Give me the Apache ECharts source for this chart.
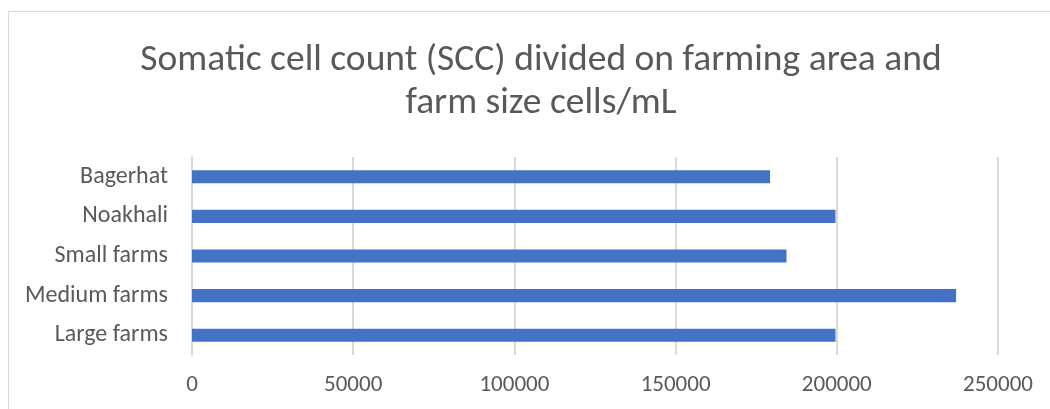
<!DOCTYPE html>
<html>
<head>
<meta charset="utf-8">
<style>
  html, body { margin: 0; padding: 0; background: #fff; }
  #chart { width: 1050px; height: 409px; }
</style>
<script src="https://cdn.jsdelivr.net/npm/echarts@6/dist/echarts.min.js"></script>
</head>
<body>
<div id="chart"></div>
<script>
// Categories listed bottom-to-top (category axis on y starts at the bottom)
const categories = ['Large farms', 'Medium farms', 'Small farms', 'Noakhali', 'Bagerhat'];
const sccValues = [199600, 237000, 184400, 199600, 179300];
const xTicks = [0, 50000, 100000, 150000, 200000, 250000];

const textColor = '#595959';
const lineColor = '#d9d9d9';
const fontFamily = 'Carlito, Calibri, "Liberation Sans", "Noto Sans", sans-serif';

const chart = echarts.init(document.getElementById('chart'), null, { renderer: 'canvas' });
chart.setOption({
  backgroundColor: '#fff',
  animation: false,
  graphic: [{
    type: 'rect',
    shape: { x: 8.5, y: 11.5, width: 1100, height: 500 },
    style: { fill: 'none', stroke: lineColor, lineWidth: 1 },
    silent: true
  }],
  title: {
    text: 'Somatic cell count (SCC) divided on farming area and\nfarm size cells/mL',
    left: 536,
    textAlign: 'center',
    top: 34,
    textStyle: {
      color: textColor,
      fontSize: 37.5,
      fontWeight: 'normal',
      fontFamily: fontFamily,
      lineHeight: 43
    }
  },
  grid: { left: 192, right: 52, top: 157, bottom: 54, containLabel: false },
  xAxis: {
    type: 'value',
    min: xTicks[0],
    max: xTicks[xTicks.length - 1],
    interval: xTicks[1] - xTicks[0],
    axisLine: { show: false },
    axisTick: { show: false },
    splitLine: { show: true, lineStyle: { color: lineColor, width: 2 } },
    axisLabel: {
      color: textColor, fontSize: 23, fontFamily: fontFamily, margin: 19,
      formatter: v => String(v)
    }
  },
  yAxis: {
    type: 'category',
    data: categories,
    axisLine: { show: true, lineStyle: { color: lineColor, width: 2 } },
    axisTick: { show: false },
    axisLabel: { color: textColor, fontSize: 24, fontFamily: fontFamily, margin: 24 }
  },
  series: [{
    type: 'bar',
    data: sccValues,
    barWidth: '33%',
    itemStyle: { color: '#4472c4' }
  }]
});
</script>
</body>
</html>
